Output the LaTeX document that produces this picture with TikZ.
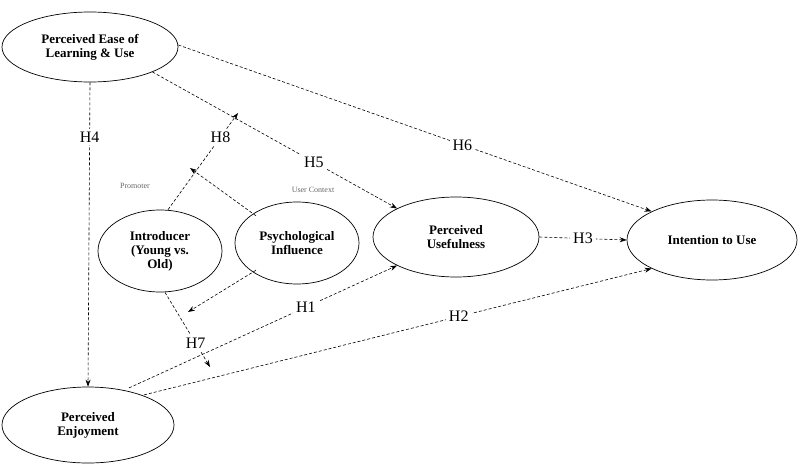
\documentclass[tikz,border=0pt]{standalone}
\usepackage{fontspec}
\setmainfont{Liberation Serif}
\usetikzlibrary{arrows.meta,shapes.geometric}
\begin{document}
\begin{tikzpicture}[x=1pt,y=-1pt,
  el/.style={draw,ellipse,line width=0.7pt,font=\bfseries\fontsize{13}{14}\selectfont,align=center,inner sep=0pt},
  con/.style={line width=0.6pt,densely dashed,-{Stealth[length=7pt,width=5pt]}},
  lab/.style={fill=white,font=\fontsize{16}{17}\selectfont,inner sep=3pt},
  sm/.style={font=\fontsize{8}{9}\selectfont,text=black!60}]
\useasboundingbox (0,0) rectangle (800,471);
\node[el,minimum width=176,minimum height=70] (peou) at (90,47) {Perceived Ease of\\Learning \& Use};
\node[el,minimum width=172,minimum height=76] (pe) at (88,425) {Perceived\\Enjoyment};
\node[el,minimum width=124,minimum height=82] (intr) at (160,251) {Introducer\\(Young vs.\\Old)};
\node[el,minimum width=124,minimum height=82] (psy) at (297,243) {Psychological\\Influence};
\node[el,minimum width=166,minimum height=80] (pu) at (456,237) {Perceived\\Usefulness};
\node[el,minimum width=170,minimum height=80] (itu) at (712,240) {Intention to Use};
\coordinate (h5tip) at (238,113);
\coordinate (h1tip) at (210,367);
\coordinate (h8mid) at (190,168);
\coordinate (h7mid) at (188,312);
\draw[con] (peou.east) ++(0,-2) -- (itu.north west) node[lab,pos=0.6] (H6) {H6};
\draw[con] (peou.south east) -- (pu.north west) node[lab,pos=0.66] (H5) {H5};
\draw[con] (peou.south) -- (pe.north) node[lab,pos=0.18] (H4) {H4};
\draw[con] (pu.east) -- (itu.west) node[lab,pos=0.5] (H3) {H3};
\draw[con] (pe.north east) ++(-5,-3) -- (itu.south west) node[lab,pos=0.62] (H2) {H2};
\draw[con] (pe.north east) ++(-20,-10) -- (pu.south west) node[lab,pos=0.66] (H1) {H1};
\draw[con] (intr.north) ++(8,0) -- (h5tip) node[lab,pos=0.75] (H8) {H8};
\draw[con] (intr.south) ++(5,0) -- (h1tip) node[lab,pos=0.68] (H7) {H7};
\draw[con] (psy.north west) ++(3,2) -- (h8mid);
\draw[con] (psy.south west) ++(3,-2) -- (h7mid);
\node[sm] (prom) at (135,186) {Promoter};
\node[sm] (uc) at (313,190) {User Context};
\end{tikzpicture}
\end{document}
